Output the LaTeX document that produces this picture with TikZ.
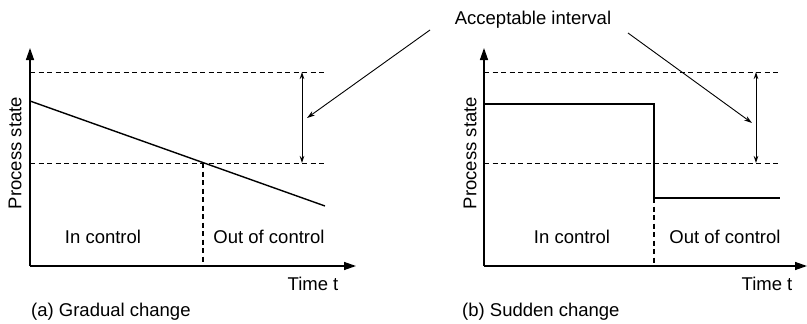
\documentclass[tikz,border=0pt]{standalone}
\usepackage{fontspec}
\setmainfont{Liberation Sans}
\usetikzlibrary{arrows.meta}
\begin{document}
\begin{tikzpicture}[x=1pt,y=-1pt,
  axis/.style={line width=1.4pt,-{Triangle[length=12pt,width=8pt]}},
  lim/.style={line width=0.9pt,dash pattern=on 5pt off 3.5pt},
  vdash/.style={line width=1.1pt,dash pattern=on 5pt off 3.5pt},
  curve/.style={line width=1.4pt},
  span/.style={line width=0.9pt,{Stealth[length=7pt,width=4.5pt]}-{Stealth[length=7pt,width=4.5pt]}},
  pointer/.style={line width=0.9pt,-{Stealth[length=8pt,width=5pt]}},
  lbl/.style={font=\fontsize{18.5}{22}\selectfont,inner sep=0pt}]
\useasboundingbox (0,0) rectangle (807,324);
% ---------- panel (a) ----------
\coordinate (aO) at (30,266);
\coordinate (aY) at (30,48);
\coordinate (aX) at (356,266);
\draw[axis] (aO) -- (aY);
\draw[axis] (aO) -- (aX);
\coordinate (aU1) at (30,72);  \coordinate (aU2) at (325,72);
\coordinate (aL1) at (30,163); \coordinate (aL2) at (325,163);
\draw[lim] (aU1) -- (aU2);
\draw[lim] (aL1) -- (aL2);
\coordinate (aS) at (30,101);
\coordinate (aE) at (325,206);
\draw[curve] (aS) -- (aE);
\coordinate (aC) at (203,163);
\coordinate (aCb) at (203,266);
\draw[vdash] (aC) -- (aCb);
\coordinate (aT) at (302,72); \coordinate (aB) at (302,163);
\draw[span] (aT) -- (aB);
\node[lbl,rotate=90] (aPS) at (15,153) {Process state};
\node[lbl] (aIn) at (103,237) {In control};
\node[lbl] (aOut) at (269,237) {Out of control};
\node[lbl] (aTime) at (313,284) {Time t};
\node[lbl,anchor=west] (aCap) at (31,312) {(a) Gradual change};
% ---------- panel (b) ----------
\coordinate (bO) at (484,266);
\coordinate (bY) at (484,48);
\coordinate (bX) at (807,266);
\draw[axis] (bO) -- (bY);
\draw[axis] (bO) -- (bX);
\coordinate (bU1) at (484,72);  \coordinate (bU2) at (780,72);
\coordinate (bL1) at (484,163); \coordinate (bL2) at (780,163);
\draw[lim] (bU1) -- (bU2);
\draw[lim] (bL1) -- (bL2);
\coordinate (bS) at (484,104);
\coordinate (bJ) at (654,104);
\coordinate (bK) at (654,198);
\coordinate (bE) at (780,198);
\draw[curve] (bS) -- (bJ) -- (bK) -- (bE);
\coordinate (bCb) at (654,266);
\draw[vdash] (bK) -- (bCb);
\coordinate (bT) at (756,72); \coordinate (bB) at (756,163);
\draw[span] (bT) -- (bB);
\node[lbl,rotate=90] (bPS) at (470,153) {Process state};
\node[lbl] (bIn) at (572,237) {In control};
\node[lbl] (bOut) at (725,237) {Out of control};
\node[lbl] (bTime) at (767,284) {Time t};
\node[lbl,anchor=west] (bCap) at (462,312) {(b) Sudden change};
% ---------- label ----------
\node[lbl] (acc) at (533,20) {Acceptable interval};
\coordinate (p1s) at (430,30); \coordinate (p1e) at (307,118);
\coordinate (p2s) at (628,33); \coordinate (p2e) at (752,123);
\draw[pointer] (p1s) -- (p1e);
\draw[pointer] (p2s) -- (p2e);
\end{tikzpicture}
\end{document}
